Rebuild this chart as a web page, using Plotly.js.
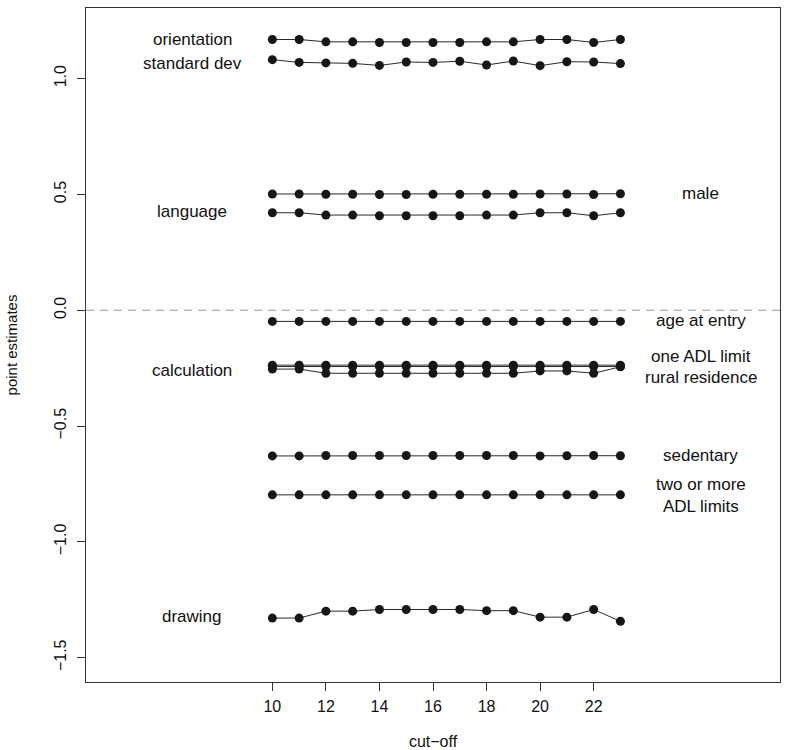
<!DOCTYPE html>
<html>
<head>
<meta charset="utf-8">
<script src="https://cdn.plot.ly/plotly-3.0.1.min.js"></script>
<style>html,body{margin:0;padding:0;background:#fff;}#chart{width:788px;height:750px;}</style>
</head>
<body>
<div id="chart"></div>
<script>
// ---- data ----
const cutoff = [10, 11, 12, 13, 14, 15, 16, 17, 18, 19, 20, 21, 22, 23];

const orientation = [1.169, 1.169, 1.159, 1.159, 1.156, 1.156, 1.156, 1.156, 1.159, 1.159, 1.169, 1.169, 1.156, 1.169];
const standardDev = [1.082, 1.070, 1.068, 1.066, 1.057, 1.072, 1.070, 1.075, 1.059, 1.076, 1.056, 1.073, 1.072, 1.065];
const male        = [0.502, 0.502, 0.501, 0.501, 0.500, 0.500, 0.501, 0.501, 0.501, 0.501, 0.502, 0.502, 0.500, 0.503];
const language    = [0.421, 0.421, 0.411, 0.411, 0.408, 0.408, 0.408, 0.408, 0.411, 0.411, 0.421, 0.421, 0.408, 0.421];
const ageAtEntry  = [-0.048, -0.048, -0.048, -0.048, -0.048, -0.048, -0.048, -0.048, -0.048, -0.048, -0.048, -0.048, -0.048, -0.048];
const oneADL      = [-0.237, -0.237, -0.237, -0.237, -0.237, -0.237, -0.237, -0.237, -0.237, -0.237, -0.237, -0.237, -0.237, -0.237];
const rural       = [-0.243, -0.243, -0.243, -0.243, -0.243, -0.243, -0.243, -0.243, -0.243, -0.243, -0.243, -0.243, -0.243, -0.243];
const calculation = [-0.254, -0.254, -0.272, -0.272, -0.272, -0.272, -0.272, -0.272, -0.272, -0.272, -0.262, -0.262, -0.272, -0.244];
const sedentary   = [-0.629, -0.629, -0.627, -0.627, -0.627, -0.627, -0.627, -0.627, -0.627, -0.627, -0.629, -0.628, -0.627, -0.628];
const twoADL      = [-0.797, -0.797, -0.797, -0.797, -0.797, -0.797, -0.797, -0.797, -0.797, -0.797, -0.797, -0.797, -0.797, -0.797];
const drawing     = [-1.329, -1.329, -1.299, -1.299, -1.292, -1.292, -1.292, -1.292, -1.297, -1.297, -1.325, -1.325, -1.292, -1.343];

const seriesList = [orientation, standardDev, male, language, ageAtEntry, oneADL, rural, calculation, sedentary, twoADL, drawing];

// labels: text, x (cut-off units), y (estimate units)
const labelText = ["orientation", "standard dev", "language", "calculation", "drawing",
                   "male", "age at entry", "one ADL limit", "rural residence", "sedentary", "two or more<br>ADL limits"];
const labelX = [7, 7, 7, 7, 7, 26, 26, 26, 26, 26, 26];
const labelY = [1.169, 1.067, 0.427, -0.260, -1.322, 0.504, -0.046, -0.198, -0.289, -0.625, -0.800];

const xTicks = [10, 12, 14, 16, 18, 20, 22];
const yTicks = [-1.5, -1.0, -0.5, 0.0, 0.5, 1.0];
const yTickText = ["\u22121.5", "\u22121.0", "\u22120.5", "0.0", "0.5", "1.0"];

// ---- chart ----
const FONT = "Liberation Sans, Arial, Helvetica, sans-serif";

const traces = seriesList.map(s => ({
  x: cutoff, y: s, type: "scatter", mode: "lines+markers",
  line: {color: "#2a2a2a", width: 1},
  marker: {color: "#161616", size: 9},
  showlegend: false, hoverinfo: "skip"
}));

const annotations = labelText.map((t, i) => ({
  x: labelX[i], y: labelY[i], xref: "x", yref: "y", text: t,
  showarrow: false, xanchor: "center", yanchor: "middle",
  font: {family: FONT, size: 17, color: "#111"}
}));

const layout = {
  width: 788, height: 750,
  margin: {l: 86, r: 8, t: 8, b: 68},
  paper_bgcolor: "#fff", plot_bgcolor: "#fff",
  font: {family: FONT, color: "#111"},
  showlegend: false,
  xaxis: {
    range: [3.04, 28.96], tickvals: xTicks, ticktext: xTicks.map(String),
    ticks: "outside", ticklen: 8, tickcolor: "#333", tickwidth: 1,
    showline: true, mirror: true, linecolor: "#333", linewidth: 1,
    showgrid: false, zeroline: false, ticklabelstandoff: 2,
    tickfont: {family: FONT, size: 16, color: "#111"},
    title: {text: "cut\u2212off", font: {family: FONT, size: 16, color: "#111"}, standoff: 26}
  },
  yaxis: {
    range: [-1.605, 1.305], tickvals: yTicks, ticktext: yTickText, tickangle: -90,
    ticks: "outside", ticklen: 8, tickcolor: "#333", tickwidth: 1,
    showline: true, mirror: true, linecolor: "#333", linewidth: 1,
    showgrid: false, zeroline: false, ticklabelstandoff: 5,
    tickfont: {family: FONT, size: 16, color: "#111"},
    title: {text: "point estimates", font: {family: FONT, size: 15, color: "#111"}, standoff: 30}
  },
  shapes: [{
    type: "line", xref: "paper", x0: 0, x1: 1, yref: "y", y0: 0, y1: 0,
    line: {color: "#9a9a9a", width: 1.2, dash: "8px,6px"}, layer: "below"
  }],
  annotations: annotations
};

Plotly.newPlot("chart", traces, layout, {staticPlot: true, displayModeBar: false});
</script>
</body>
</html>
